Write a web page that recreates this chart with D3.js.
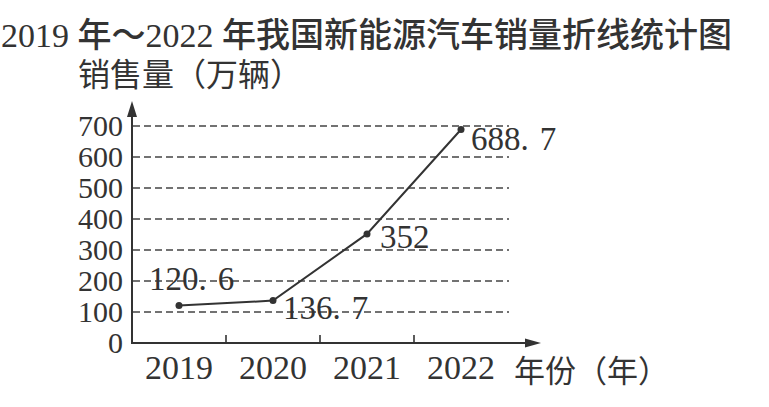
<!DOCTYPE html>
<meta charset="utf-8">
<style>
  body { margin: 0; background: #fff; }
  text { fill: #333; }
  .num { font-family: "Liberation Serif", "DejaVu Serif", serif; }
  .cjk { font-family: "Noto Sans CJK SC", sans-serif; }
</style>
<svg width="769" height="407"></svg>
<script src="https://cdn.jsdelivr.net/npm/d3@7/dist/d3.min.js"></script>
<script>
// data
var years = ["2019", "2020", "2021", "2022"];
var sales = [120.6, 136.7, 352, 688.7];
var yTicks = [0, 100, 200, 300, 400, 500, 600, 700];
var titleText = "2019 年～2022 年我国新能源汽车销量折线统计图";
var yTitle = "销售量（万辆）";
var xTitle = "年份（年）";

// where each value label sits relative to its point
var labelOffsets = [[-30, -16], [10, 18], [13, 14], [10, 20]];

var svg = d3.select("svg");
var ink = "#333";

var x = d3.scaleBand().domain(years).range([132, 508]);
var y = d3.scaleLinear().domain([0, 700]).range([343, 126]);

// title: serif digits, CJK in a heavier sans
var title = svg.append("text").attr("x", 1).attr("y", 47).style("font-size", "34px");
titleText.split(/([\u4e00-\u9fff\uff00-\uffef]+)/).filter(function(s) { return s.length; })
  .forEach(function(s) {
    var cjk = /[\u4e00-\u9fff\uff00-\uffef]/.test(s);
    title.append("tspan")
      .attr("class", cjk ? "cjk" : "num")
      .style("font-weight", cjk ? 500 : 400)
      .text(s);
  });

svg.append("text").attr("class", "cjk")
  .attr("x", 78).attr("y", 86)
  .style("font-size", "32px")
  .text(yTitle);

svg.append("text").attr("class", "cjk")
  .attr("x", 514).attr("y", 382)
  .style("font-size", "31px")
  .text(xTitle);

// dashed grid lines
svg.append("g").selectAll("line")
  .data(yTicks.filter(function(d) { return d > 0; }))
  .enter().append("line")
  .attr("x1", 133).attr("x2", 509)
  .attr("y1", function(d) { return y(d); })
  .attr("y2", function(d) { return y(d); })
  .attr("stroke", "#444")
  .attr("stroke-width", 1.6)
  .attr("stroke-dasharray", "7,4");

// y tick labels
var yAxis = svg.append("g")
  .attr("transform", "translate(132,0)")
  .call(d3.axisLeft(y).tickValues(yTicks).tickSize(0).tickPadding(9));
yAxis.select(".domain").remove();
yAxis.selectAll("text").attr("class", "num").style("font-size", "30px").attr("fill", ink);

// x category labels
var xAxis = svg.append("g")
  .attr("transform", "translate(0,343)")
  .call(d3.axisBottom(x).tickSize(0).tickPadding(12));
xAxis.select(".domain").remove();
xAxis.selectAll("text").attr("class", "num").style("font-size", "34px").attr("fill", ink);

// axes with arrows
svg.append("line")
  .attr("x1", 132).attr("x2", 132)
  .attr("y1", y(0)).attr("y2", 112)
  .attr("stroke", ink).attr("stroke-width", 2);
svg.append("path")
  .attr("d", "M132,101 L127,117 L137,117 Z")
  .attr("fill", ink);

svg.append("line")
  .attr("x1", 131).attr("x2", 530)
  .attr("y1", y(0)).attr("y2", y(0))
  .attr("stroke", ink).attr("stroke-width", 2);
svg.append("path")
  .attr("d", "M541," + y(0) + " L525," + (y(0) - 4.5) + " L525," + (y(0) + 4.5) + " Z")
  .attr("fill", ink);

// small ticks between categories
svg.append("g").selectAll("line")
  .data(years.slice(1))
  .enter().append("line")
  .attr("x1", function(d) { return x(d); })
  .attr("x2", function(d) { return x(d); })
  .attr("y1", y(0)).attr("y2", y(0) - 8)
  .attr("stroke", ink).attr("stroke-width", 1.6);

// line and points
var pts = years.map(function(d, i) {
  return { year: d, value: sales[i], px: x(d) + x.bandwidth() / 2, py: y(sales[i]) };
});

svg.append("path")
  .datum(pts)
  .attr("fill", "none")
  .attr("stroke", ink)
  .attr("stroke-width", 2)
  .attr("d", d3.line().x(function(d) { return d.px; }).y(function(d) { return d.py; }));

svg.append("g").selectAll("circle")
  .data(pts)
  .enter().append("circle")
  .attr("cx", function(d) { return d.px; })
  .attr("cy", function(d) { return d.py; })
  .attr("r", 3.5)
  .attr("fill", ink);

// value labels, decimal point set wide as in print
var labels = svg.append("g").selectAll("text")
  .data(pts)
  .enter().append("text")
  .attr("class", "num")
  .style("font-size", "33px")
  .attr("x", function(d, i) { return d.px + labelOffsets[i][0]; })
  .attr("y", function(d, i) { return d.py + labelOffsets[i][1]; });

labels.each(function(d) {
  var parts = String(d.value).split(".");
  var t = d3.select(this);
  t.append("tspan").text(parts[0] + (parts.length > 1 ? "." : ""));
  if (parts.length > 1) t.append("tspan").attr("dx", 11).text(parts[1]);
});
</script>
